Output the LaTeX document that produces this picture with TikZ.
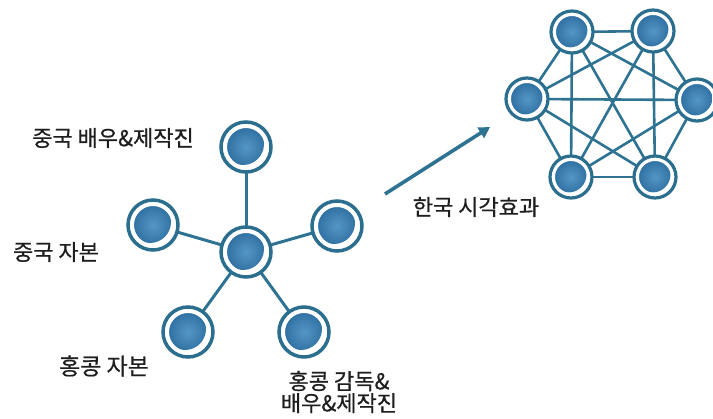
\documentclass[tikz,border=0pt]{standalone}
\usepackage{fontspec}
\usetikzlibrary{arrows.meta}
\newfontfamily\kr[FakeBold=0.6]{Noto Sans CJK KR}
\definecolor{ring}{HTML}{2B6E8E}
\definecolor{edge}{HTML}{2F7393}
\definecolor{diskin}{HTML}{5496C4}
\definecolor{diskout}{HTML}{26679A}
\definecolor{txt}{HTML}{1E1E1E}
\pgfdeclarelayer{bg}\pgfsetlayers{bg,main}
\tikzset{
  bignode/.style={circle, minimum size=50pt, draw=ring, line width=3.5pt, fill=white, inner sep=0pt,
    path picture={\shade[inner color=diskin, outer color=diskout] ([xshift=-3pt,yshift=3pt]path picture bounding box.center) circle (21pt);
      \fill[white, even odd rule] (path picture bounding box.center) circle (25pt) (path picture bounding box.center) circle (19pt);}},
  smallnode/.style={circle, minimum size=42pt, draw=ring, line width=3.2pt, fill=white, inner sep=0pt,
    path picture={\shade[inner color=diskin, outer color=diskout] ([xshift=-2.5pt,yshift=2.5pt]path picture bounding box.center) circle (18pt);
      \fill[white, even odd rule] (path picture bounding box.center) circle (22pt) (path picture bounding box.center) circle (16pt);}},
  link/.style={draw=edge, line width=3pt},
  lbl/.style={font=\kr\fontsize{22}{22}\selectfont, text=txt, inner sep=0pt, align=center}
}
\begin{document}
\begin{tikzpicture}[x=1pt,y=-1pt]
\useasboundingbox (0,0) rectangle (713,419);
% left star
\node[bignode] (c) at (246,252) {};
\node[bignode] (t) at (246,147) {};
\node[bignode] (l) at (153,225) {};
\node[bignode] (r) at (337,226) {};
\node[bignode] (bl) at (188,332) {};
\node[bignode] (br) at (304,332) {};
% hexagon
\node[smallnode] (h1) at (572,32) {};
\node[smallnode] (h2) at (653,31) {};
\node[smallnode] (h3) at (697,100) {};
\node[smallnode] (h4) at (655,177) {};
\node[smallnode] (h5) at (571,177) {};
\node[smallnode] (h6) at (527,99) {};
\begin{pgfonlayer}{bg}
\foreach \a in {t,l,r,bl,br} \draw[link] (c.center) -- (\a.center);
\foreach \a/\b in {h1/h2,h1/h3,h1/h4,h1/h5,h1/h6,h2/h3,h2/h4,h2/h5,h2/h6,h3/h4,h3/h5,h3/h6,h4/h5,h4/h6,h5/h6}
  \draw[link, line width=2.6pt] (\a.center) -- (\b.center);
\end{pgfonlayer}
% arrow
\coordinate (as) at (385,194);
\coordinate (ae) at (490,127);
\draw[edge, line width=3.6pt, -{Triangle[length=11pt,width=12pt]}] (as) -- (ae);
% labels
\node[lbl] (L1) at (113,138) {중국 배우\&제작진};
\node[lbl] (L2) at (56,252) {중국 자본};
\node[lbl, font=\kr\fontsize{23}{23}\selectfont] (L3) at (104,366) {홍콩 자본};
\node[lbl] (L4) at (339,392) {홍콩 감독\&\\배우\&제작진};
\node[lbl] (L5) at (476,207) {한국 시각효과};
\end{tikzpicture}
\end{document}
